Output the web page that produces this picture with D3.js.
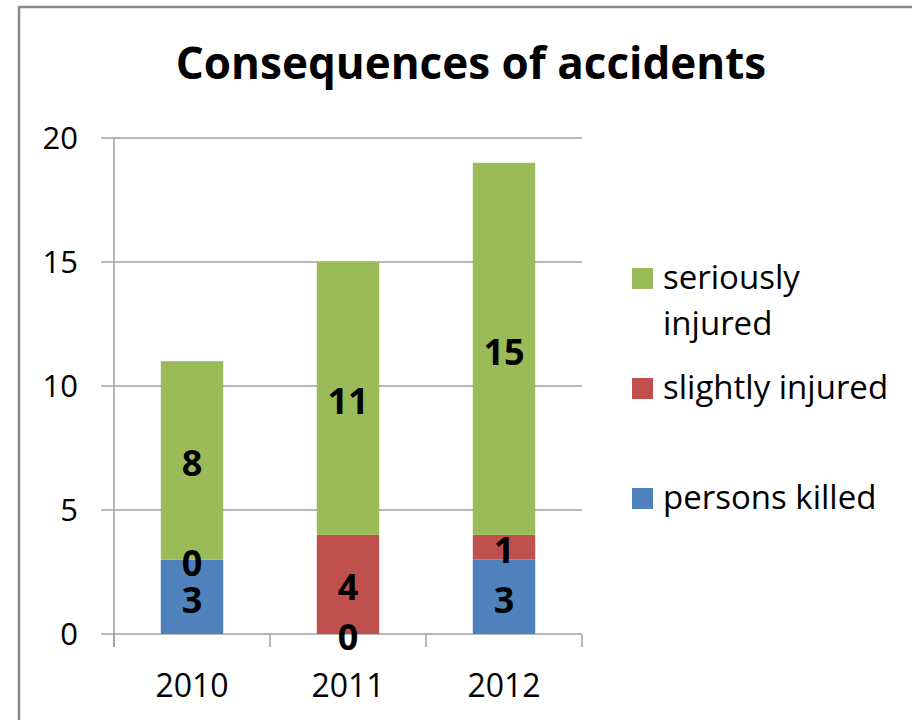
<!DOCTYPE html>
<html lang="en">
  <head>
    <meta charset="UTF-8" />
    <title>Consequences of accidents</title>
    <script src="https://d3js.org/d3.v7.min.js"></script>
    <style>
      body { margin: 0; background: #fff; }
      text { font-family: 'Open Sans', Lato, sans-serif; fill: #000; }
    </style>
  </head>
  <body>
    <svg id="chart" width="912" height="720"></svg>
    <script>
      // Data
      const years = ['2010', '2011', '2012']
      const series = ['persons killed', 'slightly injured', 'seriously injured']
      const personsKilled = [3, 0, 3]
      const slightlyInjured = [0, 4, 1]
      const seriouslyInjured = [8, 11, 15]
      const yTicks = [0, 5, 10, 15, 20]
      const colors = ['#4F81BD', '#C0504D', '#9BBB59']

      const svg = d3.select('#chart')

      // chart frame
      svg.append('rect')
        .attr('x', 19).attr('y', 7)
        .attr('width', 912).attr('height', 720)
        .attr('fill', '#fff')
        .attr('stroke', '#8a8a8a')
        .attr('stroke-width', 2.5)

      const margin = { left: 114, right: 582, top: 138, bottom: 634 }

      const x = d3.scaleBand()
        .domain(years)
        .range([margin.left, margin.right])
        .paddingInner(0.6)
        .paddingOuter(0.3)

      const y = d3.scaleLinear()
        .domain([0, 20])
        .range([margin.bottom, margin.top])

      // gridlines
      svg.append('g')
        .selectAll('line')
        .data(yTicks)
        .join('line')
        .attr('x1', margin.left - 13)
        .attr('x2', margin.right)
        .attr('y1', d => y(d))
        .attr('y2', d => y(d))
        .attr('stroke', '#a0a0a0')
        .attr('stroke-width', 1.5)

      // y axis line + labels
      svg.append('line')
        .attr('x1', margin.left).attr('x2', margin.left)
        .attr('y1', margin.top).attr('y2', margin.bottom + 13)
        .attr('stroke', '#a0a0a0').attr('stroke-width', 1.5)

      svg.append('g')
        .selectAll('text')
        .data(yTicks)
        .join('text')
        .attr('x', 78)
        .attr('y', d => y(d))
        .attr('dy', '0.36em')
        .attr('text-anchor', 'end')
        .style('font-size', '31px')
        .text(d => d)

      // category ticks
      const step = (margin.right - margin.left) / years.length
      svg.append('g')
        .selectAll('line')
        .data(d3.range(years.length + 1))
        .join('line')
        .attr('x1', i => margin.left + i * step)
        .attr('x2', i => margin.left + i * step)
        .attr('y1', margin.bottom)
        .attr('y2', margin.bottom + 13)
        .attr('stroke', '#a0a0a0').attr('stroke-width', 1.5)

      svg.append('g')
        .selectAll('text')
        .data(years)
        .join('text')
        .attr('x', d => x(d) + x.bandwidth() / 2)
        .attr('y', 697)
        .attr('text-anchor', 'middle')
        .style('font-size', '32px')
        .text(d => d)

      // stacked bars
      const table = years.map((yr, i) => ({
        year: yr,
        'persons killed': personsKilled[i],
        'slightly injured': slightlyInjured[i],
        'seriously injured': seriouslyInjured[i]
      }))
      const stacked = d3.stack().keys(series)(table)

      svg.append('g')
        .selectAll('g')
        .data(stacked)
        .join('g')
        .attr('fill', (d, i) => colors[i])
        .selectAll('rect')
        .data(d => d)
        .join('rect')
        .attr('x', d => x(d.data.year))
        .attr('width', x.bandwidth())
        .attr('y', d => y(d[1]))
        .attr('height', d => y(d[0]) - y(d[1]))

      // value labels, on top of every bar
      svg.append('g')
        .selectAll('g')
        .data(stacked)
        .join('g')
        .selectAll('text')
        .data(d => d)
        .join('text')
        .attr('x', d => x(d.data.year) + x.bandwidth() / 2)
        .attr('y', d => (y(d[0]) + y(d[1])) / 2 + 3)
        .attr('dy', '0.36em')
        .attr('text-anchor', 'middle')
        .style('font-size', '36px')
        .style('font-weight', 'bold')
        .text(d => d[1] - d[0])

      // title
      svg.append('text')
        .attr('x', 471)
        .attr('y', 79)
        .attr('text-anchor', 'middle')
        .style('font-size', '44px')
        .style('font-weight', 'bold')
        .text('Consequences of accidents')

      // legend
      const legendItems = [
        { name: 'seriously', line2: 'injured', color: colors[2], top: 268 },
        { name: 'slightly injured', line2: null, color: colors[1], top: 378 },
        { name: 'persons killed', line2: null, color: colors[0], top: 488 }
      ]
      const legend = svg.append('g')
        .selectAll('g')
        .data(legendItems)
        .join('g')

      legend.append('rect')
        .attr('x', 632)
        .attr('y', d => d.top)
        .attr('width', 21)
        .attr('height', 21)
        .attr('fill', d => d.color)

      legend.append('text')
        .attr('x', 663)
        .attr('y', d => d.top + 21)
        .style('font-size', '33px')
        .text(d => d.name)

      legend.filter(d => d.line2)
        .append('text')
        .attr('x', 663)
        .attr('y', d => d.top + 67)
        .style('font-size', '33px')
        .text(d => d.line2)
    </script>
  </body>
</html>
